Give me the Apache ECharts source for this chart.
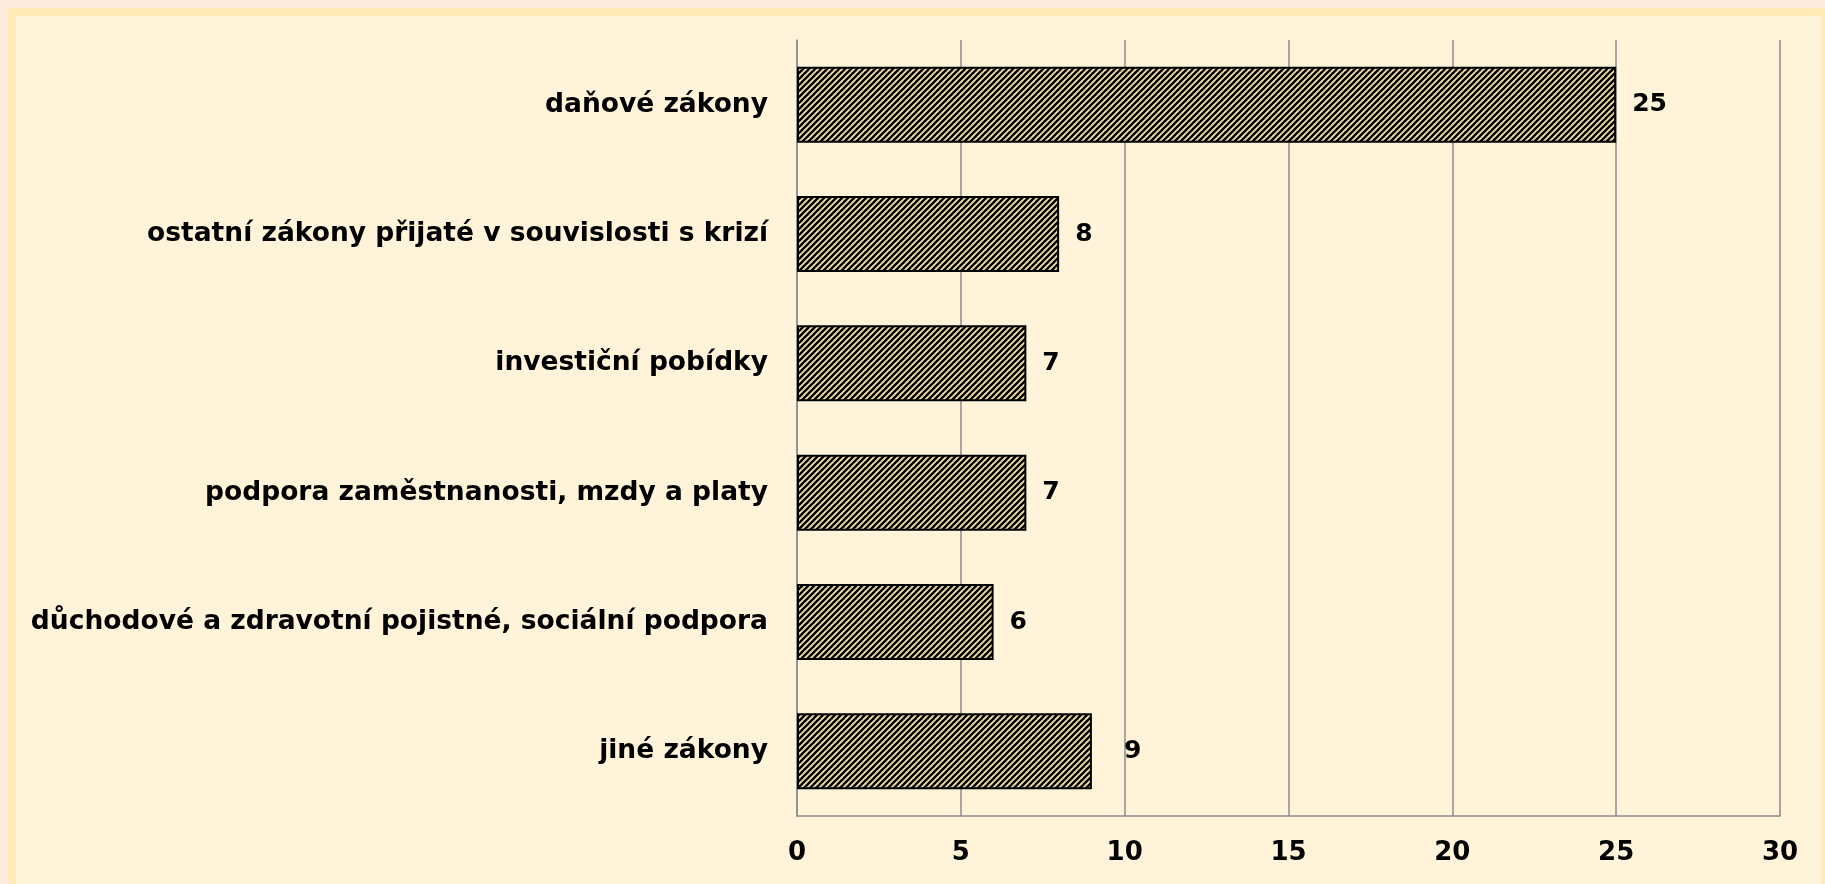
<!DOCTYPE html>
<html>
<head>
<meta charset="utf-8">
<script src="https://cdn.jsdelivr.net/npm/echarts@6/dist/echarts.min.js"></script>
<style>
  html, body {
    margin: 0;
    padding: 0;
    background: #fbebdc;
  }
  .frame {
    position: absolute;
    left: 8px;
    top: 8px;
    right: 0;
    bottom: 0;
    background: #ffe9b5;
    border-radius: 4px;
  }
  .mychart {
    position: absolute;
    left: 16px;
    top: 16px;
    width: 1805px;
    height: 868px;
    background: #fff3d9;
  }
</style>
</head>
<body>
<div class="frame"></div>
<div class="mychart" id="main"></div>
<script>
var categories = [
  "daňové zákony",
  "ostatní zákony přijaté v souvislosti s krizí",
  "investiční pobídky",
  "podpora zaměstnanosti, mzdy a platy",
  "důchodové a zdravotní pojistné, sociální podpora",
  "jiné zákony"
];
var values = [25, 8, 7, 7, 6, 9];
var ticks = [0, 5, 10, 15, 20, 25, 30];

// šrafování sloupců
function makeHatch() {
  var c = document.createElement("canvas");
  c.width = 6;
  c.height = 6;
  var ctx = c.getContext("2d");
  ctx.fillStyle = "#f6e4a6";
  ctx.fillRect(0, 0, 6, 6);
  ctx.strokeStyle = "#000";
  ctx.lineWidth = 2.4;
  for (var k = -1; k <= 1; k++) {
    ctx.beginPath();
    ctx.moveTo(-6 + k * 6, 12);
    ctx.lineTo(12 + k * 6, -6);
    ctx.stroke();
  }
  return c;
}

var chartDom = document.getElementById("main");
var myChart = echarts.init(chartDom);
var font = "DejaVu Sans";

var option = {
  animation: false,
  grid: {
    left: 781,
    right: 41,
    top: 24,
    bottom: 68
  },
  xAxis: {
    type: "value",
    min: ticks[0],
    max: ticks[ticks.length - 1],
    interval: 5,
    axisLine: { show: true, lineStyle: { color: "#8c8c8c", width: 1.5 } },
    axisTick: { show: false },
    splitLine: { show: true, lineStyle: { color: "#8c8c8c", width: 1.5 } },
    axisLabel: {
      margin: 24,
      color: "#000",
      fontFamily: font,
      fontWeight: "bold",
      fontSize: 26
    }
  },
  yAxis: {
    type: "category",
    inverse: true,
    data: categories,
    axisLine: { show: true, lineStyle: { color: "#8c8c8c", width: 1.5 } },
    axisTick: { show: false },
    axisLabel: {
      margin: 29,
      color: "#000",
      fontFamily: font,
      fontWeight: "bold",
      fontSize: 26.5
    }
  },
  series: [
    {
      type: "bar",
      barWidth: 76,
      data: values.map(function (v, i) {
        var item = { value: v };
        // popisek u "jiné zákony" je posunutý dál
        if (i === 5) item.label = { distance: 32 };
        return item;
      }),
      itemStyle: {
        color: { image: makeHatch(), repeat: "repeat" },
        borderColor: "#000",
        borderWidth: 2
      },
      label: {
        show: true,
        position: "right",
        distance: 16,
        color: "#000",
        fontFamily: font,
        fontWeight: "bold",
        fontSize: 25
      }
    }
  ]
};
myChart.setOption(option);
</script>
</body>
</html>
